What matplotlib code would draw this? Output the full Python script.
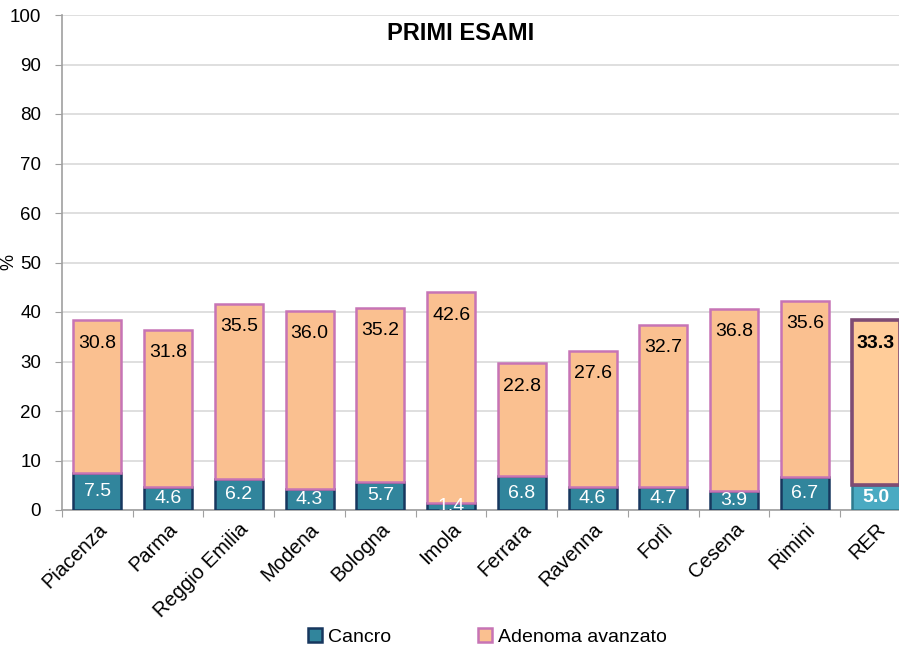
import matplotlib
matplotlib.use("Agg")
import matplotlib.pyplot as plt
import numpy as np
from matplotlib.lines import Line2D

categories = ["Piacenza", "Parma", "Reggio Emilia", "Modena", "Bologna", "Imola",
              "Ferrara", "Ravenna", "Forlì", "Cesena", "Rimini", "RER"]
cancro = [7.5, 4.6, 6.2, 4.3, 5.7, 1.4, 6.8, 4.6, 4.7, 3.9, 6.7, 5.0]
adenoma = [30.8, 31.8, 35.5, 36.0, 35.2, 42.6, 22.8, 27.6, 32.7, 36.8, 35.6, 33.3]
yticks = list(range(0, 101, 10))

plt.rcParams['font.family'] = ['Liberation Sans', 'DejaVu Sans']

fig = plt.figure(figsize=(8.99, 6.5), dpi=100)
ax = fig.add_axes([62/899, 140/650, (911-62)/899, 495/650])

x = np.arange(len(categories))
w = 0.68
n = len(categories)

c_fill = ["#31859C"] * (n - 1) + ["#4AAAC2"]
c_edge = ["#17375E"] * (n - 1) + ["#2E7A8E"]
a_fill = ["#FAC090"] * (n - 1) + ["#FFCC99"]
a_edge = ["#C774B5"] * (n - 1) + ["#7E4C74"]
a_lw = [1.8] * (n - 1) + [2.6]

ax.bar(x, cancro, w, color=c_fill, edgecolor=c_edge, linewidth=1.8, zorder=3)
ax.bar(x, adenoma, w, bottom=cancro, color=a_fill, edgecolor=a_edge,
       linewidth=a_lw, zorder=3)

for i in range(n):
    bold = (i == n - 1)
    ax.text(x[i], cancro[i] / 2, f"{cancro[i]:.1f}", ha="center", va="center",
            fontsize=14, color="white", zorder=5, clip_on=True,
            fontweight="bold" if bold else "normal")
    top = cancro[i] + adenoma[i]
    ax.annotate(f"{adenoma[i]:.1f}", (x[i], top), xytext=(0, -23),
                textcoords="offset pixels",
                ha="center", va="center", fontsize=14, color="black", zorder=5,
                fontweight="bold" if bold else "normal")

ax.set_ylim(0, 100)
ax.set_xlim(-0.5, n - 0.5)
ax.set_yticks(yticks)
ax.set_yticklabels([str(t) for t in yticks], fontsize=13.5)
ax.set_xticks(np.arange(-0.5, n, 1.0), minor=False)
ax.set_xticklabels([])
ax.set_xticks(x, minor=True)
ax.set_xticklabels(categories, minor=True, rotation=45, ha="right",
                   rotation_mode="anchor", fontsize=14.5)
ax.tick_params(axis="x", which="minor", length=0, pad=7)
ax.tick_params(axis="x", which="major", length=5, color="#A0A0A0")
ax.tick_params(axis="y", length=5, color="#A0A0A0", pad=10)

ax.grid(axis="y", color="#D9D9D9", linewidth=1.2, zorder=0)
ax.set_axisbelow(True)
for s in ["top", "right"]:
    ax.spines[s].set_visible(False)
ax.spines["left"].set_color("#A0A0A0")
ax.spines["bottom"].set_color("#A0A0A0")
ax.spines["left"].set_linewidth(1.2)
ax.spines["bottom"].set_linewidth(1.2)

fig.text(461/899, 1 - 33/650, "PRIMI ESAMI", ha="center", va="center",
         fontsize=17, fontweight="bold")

fig.text(0.0, 1 - 262/650, "%", rotation=90, ha="left", va="center", fontsize=13)

handles = [
    Line2D([], [], marker="s", linestyle="none", markersize=10,
           markerfacecolor="#31859C", markeredgecolor="#17375E", markeredgewidth=1.8),
    Line2D([], [], marker="s", linestyle="none", markersize=10,
           markerfacecolor="#FAC090", markeredgecolor="#C774B5", markeredgewidth=1.8),
]
fig.legend(handles, ["Cancro", "Adenoma avanzato"], loc="center",
           bbox_to_anchor=(486/899, 1 - 637/650), ncol=2, frameon=False,
           fontsize=14, handletextpad=0.2, columnspacing=4.3, handlelength=1.0)

fig.savefig("out.png", dpi=100)
